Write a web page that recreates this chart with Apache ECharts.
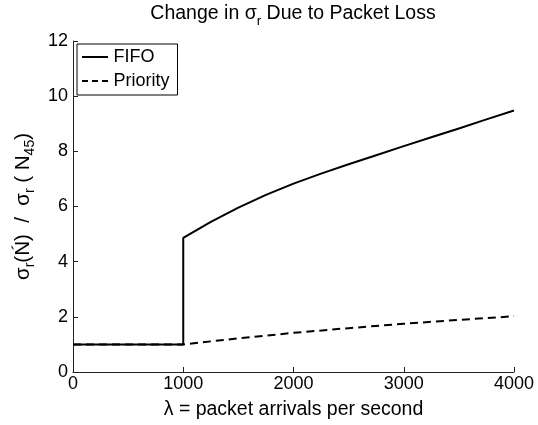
<!DOCTYPE html>
<html>
<head>
<meta charset="utf-8">
<script src="https://cdn.jsdelivr.net/npm/echarts@6/dist/echarts.min.js"></script>
<style>
html,body{margin:0;padding:0;background:#fff;}
#chart{width:538px;height:425px;}
</style>
</head>
<body>
<div id="chart"></div>
<script>
// Data
const xFIFO = [0, 1000, 1000, 1250, 1500, 1750, 2000, 2250, 2500, 2750, 3000, 3250, 3500, 3750, 4000];
const yFIFO = [1, 1, 4.86, 5.44, 5.96, 6.42, 6.83, 7.19, 7.53, 7.86, 8.19, 8.51, 8.83, 9.16, 9.48];
const xPriority = [0, 1000, 1500, 2000, 2500, 3000, 3500, 4000];
const yPriority = [1, 1, 1.22, 1.42, 1.59, 1.75, 1.89, 2.02];
const seriesNames = ['FIFO', 'Priority'];
const xTicks = [0, 1000, 2000, 3000, 4000];
const yTicks = [0, 2, 4, 6, 8, 10, 12];

const FONT = 'Liberation Sans, Arial, Helvetica, sans-serif';
const zip = (xs, ys) => xs.map((x, i) => [x, ys[i]]);

const chart = echarts.init(document.getElementById('chart'), null, {renderer: 'canvas'});
chart.setOption({
  animation: false,
  backgroundColor: '#fff',
  textStyle: {fontFamily: FONT, color: '#000'},
  title: {
    text: '{b|Change in σ}{s|r}{b| Due to Packet Loss}',
    left: 293,
    textAlign: 'center',
    top: 0,
    padding: 0,
    textStyle: {
      fontFamily: FONT, fontWeight: 'normal', fontSize: 19.5, color: '#000',
      rich: {
        b: {fontFamily: FONT, fontSize: 19.5, color: '#000', lineHeight: 28, verticalAlign: 'middle'},
        s: {fontFamily: FONT, fontSize: 13.5, color: '#000', lineHeight: 28, verticalAlign: 'bottom'}
      }
    }
  },
  grid: {left: 73, right: 24, top: 41, bottom: 48.5, containLabel: false},
  legend: {
    orient: 'vertical',
    left: 77,
    top: 44,
    data: [
      {name: seriesNames[0], icon: 'path://M0,0h26v2h-26z'},
      {name: seriesNames[1], icon: 'path://M0,0h6v2h-6zM10,0h6v2h-6zM20,0h6v2h-6z'}
    ],
    backgroundColor: '#fff',
    borderColor: '#000',
    borderWidth: 1,
    borderRadius: 0,
    padding: [3, 8, 4, 5],
    itemWidth: 27,
    itemHeight: 2,
    itemGap: 4,
    itemStyle: {color: '#000'},
    textStyle: {fontFamily: FONT, fontSize: 18, color: '#000', lineHeight: 20}
  },
  xAxis: {
    type: 'value',
    min: 0, max: 4000, interval: 1000,
    name: 'λ = packet arrivals per second',
    nameLocation: 'middle',
    nameGap: 28,
    nameTextStyle: {fontFamily: FONT, fontSize: 19.5, color: '#000'},
    axisLine: {lineStyle: {color: '#222', width: 1}},
    axisTick: {inside: true, length: 5, lineStyle: {color: '#222'}},
    axisLabel: {fontFamily: FONT, fontSize: 18, color: '#000', margin: 3,
      formatter: v => xTicks.includes(v) ? String(v) : ''},
    splitLine: {show: false}
  },
  yAxis: {
    type: 'value',
    min: 0, max: 12, interval: 2,
    name: '{b|σ}{s|r}{b|(Ń)  /  σ}{s|r}{b| ( N}{s|45}{b|)}',
    nameLocation: 'middle',
    nameRotate: 90,
    nameGap: 33,
    nameTextStyle: {
      fontFamily: FONT, fontSize: 20.5, color: '#000',
      rich: {
        b: {fontFamily: FONT, fontSize: 20.5, color: '#000', lineHeight: 28, verticalAlign: 'middle'},
        s: {fontFamily: FONT, fontSize: 14, color: '#000', lineHeight: 28, verticalAlign: 'bottom'}
      }
    },
    axisLine: {show: true, lineStyle: {color: '#222', width: 1}},
    axisTick: {show: true, inside: true, length: 5, lineStyle: {color: '#222'}},
    axisLabel: {fontFamily: FONT, fontSize: 18, color: '#000', margin: 5,
      formatter: v => yTicks.includes(v) ? String(v) : ''},
    splitLine: {show: false}
  },
  series: [
    {
      name: seriesNames[1],
      type: 'line',
      data: zip(xPriority, yPriority),
      symbol: 'none',
      smooth: false,
      z: 2,
      itemStyle: {color: '#000'},
      lineStyle: {color: '#000', width: 2, type: [8, 5]}
    },
    {
      name: seriesNames[0],
      type: 'line',
      data: zip(xFIFO, yFIFO),
      symbol: 'none',
      smooth: false,
      z: 3,
      itemStyle: {color: '#000'},
      lineStyle: {color: '#000', width: 2, type: 'solid'}
    }
  ]
});
</script>
</body>
</html>
